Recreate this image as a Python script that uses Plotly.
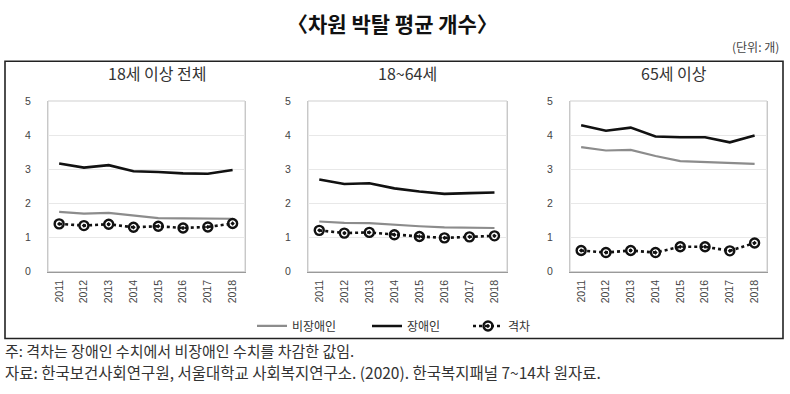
import plotly.graph_objects as go

W, H = 790, 394

years = ["2011", "2012", "2013", "2014", "2015", "2016", "2017", "2018"]
panel_titles = ["18세 이상 전체", "18~64세", "65세 이상"]
series_names = ["비장애인", "장애인", "격차"]

# 18세 이상 전체
nondis_all = [1.75, 1.70, 1.72, 1.64, 1.57, 1.56, 1.55, 1.55]
dis_all = [3.17, 3.05, 3.12, 2.94, 2.92, 2.88, 2.87, 2.98]
gap_all = [1.40, 1.35, 1.39, 1.30, 1.33, 1.28, 1.31, 1.41]

# 18~64세
nondis_1864 = [1.47, 1.43, 1.42, 1.37, 1.33, 1.30, 1.29, 1.28]
dis_1864 = [2.70, 2.57, 2.59, 2.44, 2.35, 2.28, 2.30, 2.32]
gap_1864 = [1.21, 1.13, 1.15, 1.08, 1.03, 0.99, 1.02, 1.05]

# 65세 이상
nondis_65 = [3.65, 3.55, 3.57, 3.39, 3.24, 3.21, 3.19, 3.16]
dis_65 = [4.29, 4.13, 4.22, 3.96, 3.94, 3.94, 3.79, 3.99]
gap_65 = [0.62, 0.56, 0.62, 0.56, 0.73, 0.73, 0.61, 0.84]

y_ticks = [0, 1, 2, 3, 4, 5]

title_text = "〈차원 박탈 평균 개수〉"
unit_text = "(단위: 개)"
note_text = "주: 격차는 장애인 수치에서 비장애인 수치를 차감한 값임."
source_text = "자료: 한국보건사회연구원, 서울대학교 사회복지연구소. (2020). 한국복지패널 7~14차 원자료."

panels = [
    (nondis_all, dis_all, gap_all),
    (nondis_1864, dis_1864, gap_1864),
    (nondis_65, dis_65, gap_65),
]

FONT = "Noto Sans CJK KR"

# pixel layout
x_px = [(48, 245), (308, 507), (570, 767)]
y_top, y_bot = 98, 274
legend_x = [252, 367, 468]
legend_names = ["legend", "legend2", "legend3"]


def px_x(v):
    return v / W


def px_y(v):
    return (H - v) / H


fig = go.Figure()

for i, (nd, d, g) in enumerate(panels):
    xa = "x" if i == 0 else f"x{i+1}"
    ya = "y" if i == 0 else f"y{i+1}"
    show = i == 0
    fig.add_trace(go.Scatter(
        x=years, y=nd, name=series_names[0], mode="lines",
        line=dict(color="#8c8c8c", width=2.2),
        xaxis=xa, yaxis=ya, showlegend=show, legend=legend_names[0],
    ))
    fig.add_trace(go.Scatter(
        x=years, y=d, name=series_names[1], mode="lines",
        line=dict(color="#111111", width=2.6),
        xaxis=xa, yaxis=ya, showlegend=show, legend=legend_names[1],
    ))
    fig.add_trace(go.Scatter(
        x=years, y=g, name=series_names[2], mode="lines+markers",
        line=dict(color="#111111", width=2.6, dash="dot"),
        marker=dict(symbol="circle-open-dot", size=9, color="#111111",
                    line=dict(width=2.4, color="#111111")),
        xaxis=xa, yaxis=ya, showlegend=show, legend=legend_names[2],
    ))

layout = dict(
    width=W, height=H,
    margin=dict(l=0, r=0, t=0, b=0),
    paper_bgcolor="white", plot_bgcolor="white",
    font=dict(family=FONT, color="#333333", size=11),
    showlegend=True,
)
for k, lx in zip(legend_names, legend_x):
    layout[k] = dict(
        orientation="h", x=px_x(lx), xanchor="left",
        y=px_y(330), yanchor="middle",
        font=dict(size=12, color="#333333", family=FONT),
        bgcolor="rgba(0,0,0,0)", itemwidth=30,
    )

for i in range(3):
    xk = "xaxis" if i == 0 else f"xaxis{i+1}"
    yk = "yaxis" if i == 0 else f"yaxis{i+1}"
    yref = "y" if i == 0 else f"y{i+1}"
    xref = "x" if i == 0 else f"x{i+1}"
    layout[xk] = dict(
        domain=[px_x(x_px[i][0]), px_x(x_px[i][1])],
        anchor=yref, type="category", range=[-0.45, 7.5],
        tickangle=-90, tickfont=dict(size=10.5, color="#444444", family="Liberation Sans"),
        showgrid=False, showline=True, linecolor="#9a9a9a", linewidth=1.2,
        ticks="", fixedrange=True, ticklabelstandoff=3,
    )
    layout[yk] = dict(
        domain=[px_y(y_bot), px_y(y_top)],
        anchor=xref, range=[0, 5], tickvals=y_ticks,
        tickfont=dict(size=10.5, color="#444444", family="Liberation Sans"),
        showgrid=True, gridcolor="#e8e8e8", gridwidth=1,
        showline=True, linecolor="#c8c8c8", linewidth=1, mirror=True,
        zeroline=False, ticks="", ticklabelstandoff=14, fixedrange=True,
    )

fig.update_layout(**layout)

# plot-area border (light gray)
for i in range(3):
    fig.add_shape(type="rect", xref="paper", yref="paper",
                  x0=px_x(x_px[i][0]), x1=px_x(x_px[i][1]),
                  y0=px_y(y_bot), y1=px_y(y_top),
                  line=dict(color="#cfcfcf", width=1), layer="below")

# outer frame
fig.add_shape(type="rect", xref="paper", yref="paper",
              x0=px_x(5), x1=px_x(783), y0=px_y(343), y1=px_y(57),
              line=dict(color="#222222", width=1.6))

# panel titles
title_cx = [157, 407, 674]
for i, t in enumerate(panel_titles):
    fig.add_annotation(text=t, x=px_x(title_cx[i]), y=px_y(69),
                       xref="paper", yref="paper", showarrow=False,
                       xanchor="center", yanchor="middle",
                       font=dict(size=16, color="#333333", family=FONT))

fig.add_annotation(text=f"<b>{title_text}</b>", x=px_x(392), y=px_y(18),
                   xref="paper", yref="paper", showarrow=False,
                   xanchor="center", yanchor="middle",
                   font=dict(size=21, color="#111111", family=FONT))
fig.add_annotation(text=unit_text, x=px_x(781), y=px_y(42),
                   xref="paper", yref="paper", showarrow=False,
                   xanchor="right", yanchor="middle",
                   font=dict(size=12, color="#444444", family=FONT))
fig.add_annotation(text=note_text, x=px_x(3), y=px_y(355),
                   xref="paper", yref="paper", showarrow=False,
                   xanchor="left", yanchor="middle",
                   font=dict(size=15, color="#333333", family=FONT))
fig.add_annotation(text=source_text, x=px_x(3), y=px_y(377),
                   xref="paper", yref="paper", showarrow=False,
                   xanchor="left", yanchor="middle",
                   font=dict(size=15.5, color="#333333", family=FONT))

fig.write_html("out.html", config={"displayModeBar": False},
               post_script="document.body.style.margin='0';document.body.style.overflow='hidden';")
